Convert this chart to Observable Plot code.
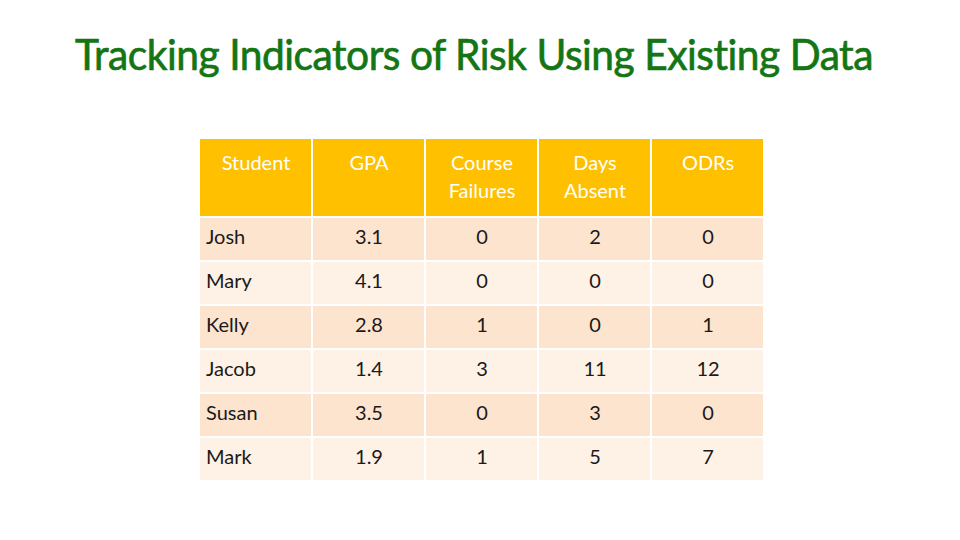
<!DOCTYPE html>
<html>
<head>
<meta charset="utf-8">
<script src="https://cdn.jsdelivr.net/npm/d3@7"></script>
<script src="https://cdn.jsdelivr.net/npm/@observablehq/plot@0.6"></script>
<style>
  html, body { margin: 0; padding: 0; background: #fff; }
  #wrap { position: relative; width: 960px; height: 540px; overflow: hidden; background: #fff; }
  #title { position: absolute; left: 75px; top: 32px; white-space: nowrap; font-family: Lato, "Open Sans", sans-serif;
           font-size: 43px; color: #137513; transform-origin: 0 0; line-height: 1; letter-spacing: -0.5px;
           -webkit-text-stroke: 0.7px #137513; }
  .p { position: absolute; left: 0; }
</style>
</head>
<body>
<div id="wrap"><div id="title">Tracking Indicators of Risk Using Existing Data</div></div>
<script>
const columns = ["Student", "GPA", "Course Failures", "Days Absent", "ODRs"];
const headerLabels = ["Student", "GPA", "Course\nFailures", "Days\nAbsent", "ODRs"];
const students = ["Josh", "Mary", "Kelly", "Jacob", "Susan", "Mark"];
const gpa = [3.1, 4.1, 2.8, 1.4, 3.5, 1.9];
const failures = [0, 0, 1, 3, 0, 1];
const absent = [2, 0, 0, 11, 3, 5];
const odrs = [0, 0, 1, 12, 0, 7];

const wrap = document.getElementById("wrap");
const title = document.getElementById("title");
const tw = title.getBoundingClientRect().width;
title.style.transform = `scaleX(${798 / tw})`;

const font = "Lato, 'Open Sans', sans-serif";

// header
const header = columns.map((c, i) => ({col: c, label: headerLabels[i], row: "h"}));
const headPlot = Plot.plot({
  width: 960, height: 79,
  marginLeft: 199, marginRight: 196, marginTop: 0, marginBottom: 0,
  style: {fontFamily: font, background: "transparent"},
  x: {domain: columns, padding: 0, axis: null},
  y: {domain: ["h"], padding: 0, axis: null},
  marks: [
    Plot.cell(header, {x: "col", y: "row", fill: "#FFC000", inset: 1}),
    Plot.text(header, {x: "col", y: "row", text: "label", fill: "white", fontSize: 20,
      lineAnchor: "top", lineHeight: 1.4, dy: -28})
  ]
});
headPlot.classList.add("p");
headPlot.style.top = "138px";
wrap.appendChild(headPlot);

// body
const records = [];
students.forEach((s, i) => {
  const vals = [s, gpa[i], failures[i], absent[i], odrs[i]];
  columns.forEach((c, j) => records.push({student: s, col: c, value: String(vals[j]), band: i % 2}));
});
const bodyPlot = Plot.plot({
  width: 960, height: 264,
  marginLeft: 199, marginRight: 196, marginTop: 0, marginBottom: 0,
  style: {fontFamily: font, background: "transparent"},
  x: {domain: columns, padding: 0, axis: null},
  y: {domain: students, padding: 0, axis: null},
  color: {type: "ordinal", domain: [0, 1], range: ["#FCE4CF", "#FEF1E5"]},
  marks: [
    Plot.cell(records, {x: "col", y: "student", fill: "band", inset: 1}),
    Plot.text(records.filter(d => d.col === "Student"), {x: "col", y: "student", text: "value",
      textAnchor: "start", dx: -50, dy: -2, fontSize: 20, fill: "#1a1a1a"}),
    Plot.text(records.filter(d => d.col !== "Student"), {x: "col", y: "student", text: "value",
      dy: -2, fontSize: 20, fill: "#1a1a1a"})
  ]
});
bodyPlot.classList.add("p");
bodyPlot.style.top = "217px";
wrap.appendChild(bodyPlot);
</script>
</body>
</html>
